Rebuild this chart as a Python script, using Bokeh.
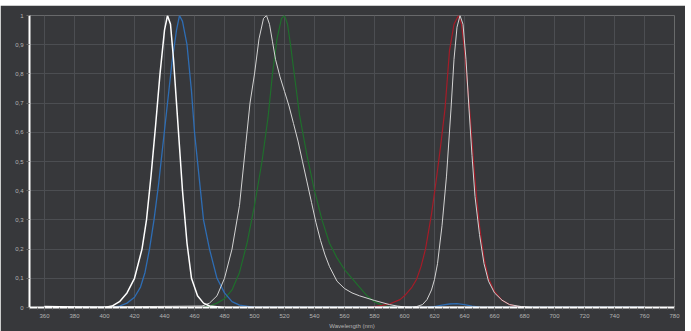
from bokeh.plotting import figure
from bokeh.models import Range1d, SingleIntervalTicker, CustomJSTickFormatter, Spacer
from bokeh.layouts import column
from bokeh.embed import file_html
from bokeh.resources import INLINE

# ---- data ----
white1_x = [360, 400, 405, 410, 415, 420, 425, 428, 431, 434, 437, 440, 442, 444, 446, 448, 450, 452, 455, 458, 462, 466, 470, 480, 760]
white1_y = [0.003, 0.0, 0.005, 0.02, 0.05, 0.1, 0.2, 0.3, 0.45, 0.62, 0.8, 0.95, 1.0, 0.97, 0.85, 0.7, 0.55, 0.4, 0.22, 0.1, 0.04, 0.015, 0.005, 0.0, 0.0]

blue_x = [360, 405, 410, 415, 420, 424, 427, 430, 433, 436, 439, 442, 445, 448, 450, 452, 455, 458, 460, 463, 466, 470, 475, 480, 485, 490, 500, 615, 620, 625, 630, 635, 640, 645, 650, 655, 760]
blue_y = [0.0, 0.0, 0.005, 0.015, 0.035, 0.07, 0.12, 0.2, 0.3, 0.42, 0.56, 0.7, 0.84, 0.95, 1.0, 0.98, 0.9, 0.74, 0.6, 0.45, 0.3, 0.2, 0.1, 0.05, 0.02, 0.008, 0.0, 0.0, 0.003, 0.008, 0.012, 0.013, 0.01, 0.005, 0.001, 0.0, 0.0]

white2_x = [360, 465, 470, 475, 480, 485, 490, 494, 497, 500, 503, 506, 508, 510, 512, 514, 517, 520, 523, 526, 529, 532, 535, 538, 541, 544, 547, 550, 555, 560, 565, 570, 575, 580, 585, 590, 595, 600, 610, 760]
white2_y = [0.0, 0.005, 0.015, 0.04, 0.1, 0.2, 0.35, 0.55, 0.7, 0.8, 0.92, 0.99, 1.0, 0.97, 0.91, 0.85, 0.79, 0.74, 0.69, 0.63, 0.57, 0.5, 0.43, 0.36, 0.29, 0.23, 0.18, 0.14, 0.09, 0.065, 0.05, 0.04, 0.032, 0.024, 0.017, 0.01, 0.005, 0.002, 0.0, 0.0]

green_x = [360, 465, 470, 475, 480, 485, 490, 495, 500, 505, 509, 512, 515, 518, 520, 522, 524, 527, 530, 535, 540, 545, 550, 555, 560, 565, 570, 575, 580, 585, 590, 595, 760]
green_y = [0.0, 0.0, 0.005, 0.015, 0.03, 0.06, 0.12, 0.22, 0.35, 0.5, 0.65, 0.8, 0.92, 0.99, 1.0, 0.97, 0.9, 0.78, 0.66, 0.52, 0.4, 0.3, 0.22, 0.17, 0.13, 0.1, 0.07, 0.04, 0.02, 0.008, 0.002, 0.0, 0.0]

red_x = [360, 575, 580, 585, 590, 597, 600, 605, 608, 611, 614, 618, 621, 624, 627, 630, 633, 636, 638, 640, 642, 644, 646, 648, 650, 653, 656, 660, 665, 670, 675, 680, 760]
red_y = [0.0, 0.0, 0.003, 0.007, 0.012, 0.027, 0.04, 0.07, 0.096, 0.14, 0.2, 0.32, 0.43, 0.55, 0.68, 0.88, 0.97, 1.0, 0.97, 0.88, 0.76, 0.64, 0.5, 0.38, 0.28, 0.17, 0.1, 0.055, 0.025, 0.01, 0.004, 0.0, 0.0]

white3_x = [360, 605, 608, 612, 615, 618, 620, 622, 625, 628, 631, 633, 635, 637, 639, 641, 643, 645, 647, 650, 653, 656, 660, 665, 670, 678, 685, 760]
white3_y = [0.0, 0.0, 0.003, 0.01, 0.027, 0.06, 0.096, 0.15, 0.28, 0.45, 0.68, 0.85, 0.96, 1.0, 0.97, 0.85, 0.68, 0.52, 0.38, 0.25, 0.15, 0.09, 0.05, 0.025, 0.01, 0.003, 0.0, 0.0]

x_label = "Wavelength (nm)"

BG = "#37383b"
GRID = "#4c4e52"
TXT = "#b4b4b4"

p = figure(width=685, height=326, output_backend="svg", toolbar_location=None,
           x_range=Range1d(350, 780), y_range=Range1d(0, 1.0),
           min_border_left=29, min_border_right=11, min_border_top=10, min_border_bottom=23)
p.background_fill_color = BG
p.border_fill_color = BG
p.outline_line_color = None

p.xaxis.ticker = SingleIntervalTicker(interval=20, num_minor_ticks=4)
p.yaxis.ticker = SingleIntervalTicker(interval=0.1, num_minor_ticks=0)
p.yaxis.formatter = CustomJSTickFormatter(code="""
if (Math.abs(tick) < 1e-9) return '0';
if (Math.abs(tick - 1) < 1e-9) return '1';
return tick.toFixed(1).replace('.', ',');
""")

for ax in (p.xaxis, p.yaxis):
    ax.axis_line_color = "white"
    ax.axis_line_width = 2
    ax.major_tick_line_color = "#666666"
    ax.minor_tick_line_color = "#666666"
    ax.major_tick_out = 3
    ax.major_tick_in = 0
    ax.minor_tick_out = 2
    ax.minor_tick_in = 0
    ax.major_label_text_color = TXT
    ax.major_label_text_font = "Liberation Sans"
    ax.major_label_text_font_size = "6px"
    ax.major_label_standoff = 3

p.xaxis.axis_label = x_label
p.xaxis.axis_label_text_color = TXT
p.xaxis.axis_label_text_font = "Liberation Sans"
p.xaxis.axis_label_text_font_size = "6px"
p.xaxis.axis_label_text_font_style = "normal"
p.xaxis.axis_label_standoff = 2

p.xgrid.grid_line_color = GRID
p.ygrid.grid_line_color = GRID
p.xgrid.grid_line_width = 1
p.ygrid.grid_line_width = 1

p.line(green_x, green_y, line_color="#1f6e2c", line_width=1.2)
p.line(red_x, red_y, line_color="#a51c28", line_width=1.2)
p.line(blue_x, blue_y, line_color="#2e6db4", line_width=1.3)
p.line(white2_x, white2_y, line_color="#d4d4d4", line_width=1.0)
p.line(white3_x, white3_y, line_color="#d4d4d4", line_width=1.0)
p.line(white1_x, white1_y, line_color="#ffffff", line_width=1.5)

layout = column(Spacer(height=5, width=685), p, spacing=0)
open("out.html", "w").write(file_html(layout, INLINE))
